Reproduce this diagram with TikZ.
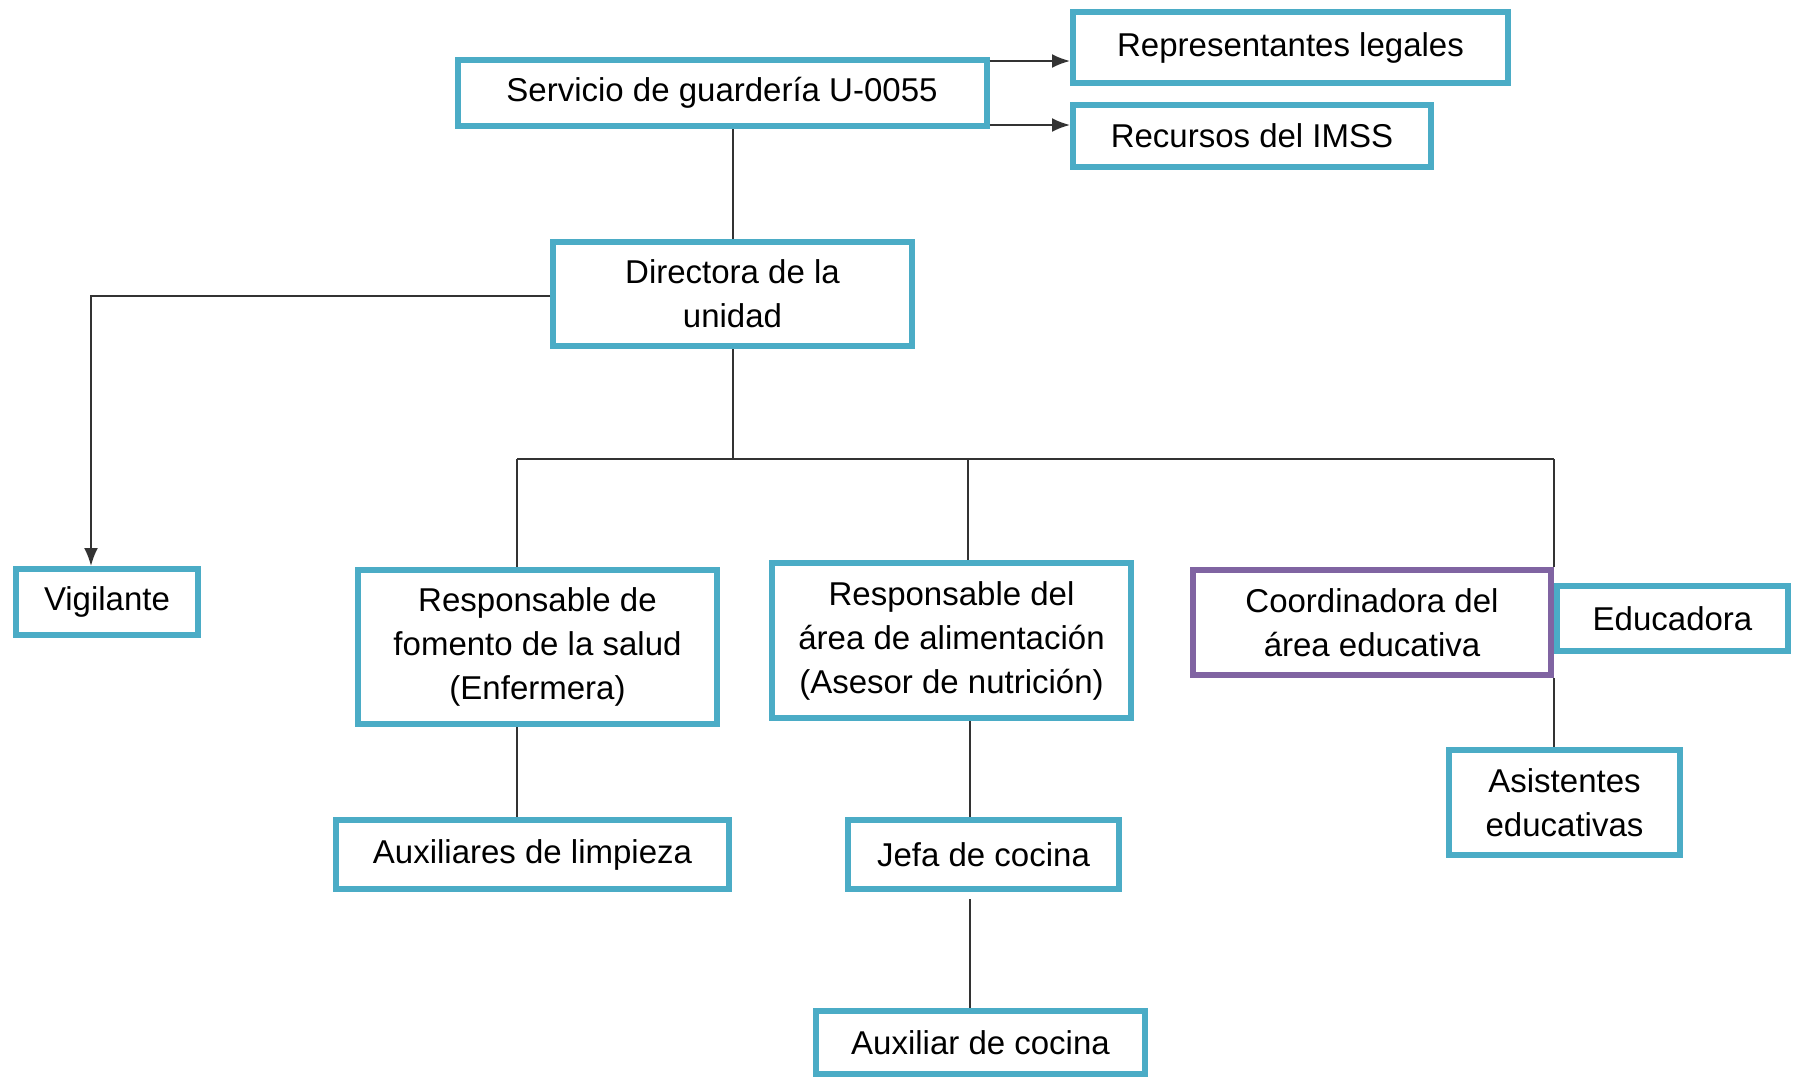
\documentclass[tikz,border=0pt]{standalone}
\usepackage{fontspec}
\setmainfont{Liberation Sans}
\usetikzlibrary{arrows.meta}

\definecolor{aqua}{HTML}{4BACC6}
\definecolor{lila}{HTML}{8064A2}

\begin{document}
\begin{tikzpicture}[x=0.5pt, y=-0.5pt,
    unitbox/.style={draw=aqua, line width=3pt, fill=white, align=center,
      inner sep=0pt, font=\fontsize{16.5}{22}\selectfont},
    lilabox/.style={unitbox, draw=lila},
    link/.style={draw=black!80, line width=1pt},
    arrowline/.style={link, -{Latex[length=9pt, width=7pt]}}]
  \useasboundingbox (0,0) rectangle (1800,1077);

  % Points on the connectors
  \coordinate (busL) at (517,459);
  \coordinate (busM) at (968,459);
  \coordinate (busR) at (1554,459);
  \coordinate (vigtop) at (91,566);
  \coordinate (bend) at (91,296);
  \coordinate (salbot) at (517,727);
  \coordinate (alibot) at (970,721);
  \coordinate (jefbot) at (970,899);

  % Draw the boxes
  \node[unitbox, minimum width=264.5pt, minimum height=33pt] (serv) at (722,93) {Servicio de guardería U-0055};
  \node[unitbox, minimum width=217.5pt, minimum height=35.5pt] (repr) at (1290.5,47.5) {Representantes legales};
  \node[unitbox, minimum width=179pt, minimum height=31pt] (recur) at (1252,136) {Recursos del IMSS};
  \node[unitbox, minimum width=179.5pt, minimum height=52pt] (dir) at (732.5,294) {Directora de la\\unidad};
  \node[unitbox, minimum width=91pt, minimum height=33pt] (vig) at (107,602) {Vigilante};
  \node[unitbox, minimum width=179.5pt, minimum height=77pt] (salud) at (537.5,647) {Responsable de\\fomento de la salud\\(Enfermera)};
  \node[unitbox, minimum width=179.5pt, minimum height=77.5pt] (alim) at (951.5,640.5) {Responsable del\\área de alimentación\\(Asesor de nutrición)};
  \node[lilabox, minimum width=179pt, minimum height=52.5pt] (coord) at (1372,622.5) {Coordinadora del\\área educativa};
  \node[unitbox, minimum width=115.5pt, minimum height=32.5pt] (educ) at (1672.5,618.5) {Educadora};
  \node[unitbox, minimum width=115.5pt, minimum height=52.5pt] (asis) at (1564.5,802.5) {Asistentes\\educativas};
  \node[unitbox, minimum width=196.5pt, minimum height=34.5pt] (limp) at (532.5,854.5) {Auxiliares de limpieza};
  \node[unitbox, minimum width=135.5pt, minimum height=34.5pt] (jefa) at (983.5,854.5) {Jefa de cocina};
  \node[unitbox, minimum width=164.5pt, minimum height=31.5pt] (auxc) at (980.5,1042.5) {Auxiliar de cocina};

  % Draw the edges
  \draw[arrowline] ([yshift=-2pt]serv.north east) -- ([yshift=-2pt]serv.north east -| repr.west);
  \draw[arrowline] ([yshift=2pt]serv.south east) -- ([yshift=2pt]serv.south east -| recur.west);
  \draw[link] (dir.north) -- (dir.north |- serv.south);
  \draw[arrowline] (dir.west |- bend) -- (bend) -- (vigtop);
  \draw[link] (dir.south) -- (dir.south |- busL);
  \draw[link] (busL) -- (busR);
  \draw[link] (busL) -- (busL |- salud.north);
  \draw[link] (busM) -- (busM |- alim.north);
  \draw[link] (busR) -- (busR |- coord.north);
  \draw[link] (coord.south east) -- (busR |- asis.north);
  \draw[link] (salbot) -- (salbot |- limp.north);
  \draw[link] (alibot) -- (alibot |- jefa.north);
  \draw[link] (jefbot) -- (jefbot |- auxc.north);
\end{tikzpicture}
\end{document}
